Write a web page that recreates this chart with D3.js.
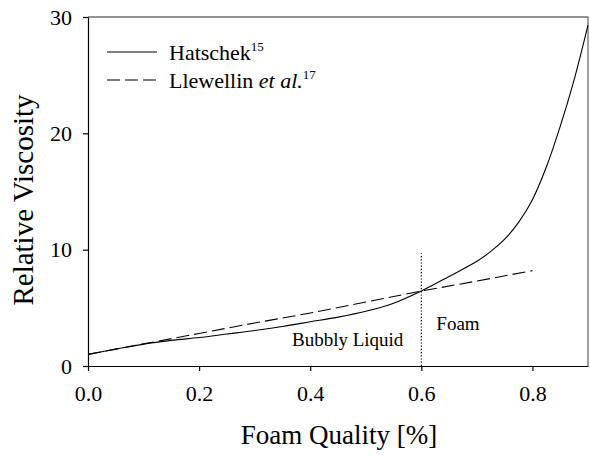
<!DOCTYPE html>
<html>
<head>
<meta charset="utf-8">
<style>
  body { margin: 0; background: #fff; }
  svg text { font-family: "Liberation Serif", "Tinos", "Times New Roman", Times, "DejaVu Serif", serif; }
</style>
</head>
<body>
<script src="https://cdn.jsdelivr.net/npm/d3@7"></script>

<div id="container1"></div>

<script>

// foam quality (x) and relative viscosity
const hatschekX = [0.0, 0.05, 0.1, 0.15, 0.2, 0.25, 0.3, 0.35, 0.4, 0.45, 0.5, 0.55, 0.6, 0.65, 0.7, 0.725, 0.75, 0.775, 0.8, 0.825, 0.85, 0.875, 0.9];
const hatschekY = [1.0, 1.45, 1.88, 2.2, 2.45, 2.75, 3.05, 3.4, 3.8, 4.2, 4.7, 5.4, 6.45, 7.7, 9.0, 9.85, 10.9, 12.35, 14.3, 17.1, 20.6, 24.6, 29.3];

const llewellinX = [0.0, 0.1, 0.2, 0.3, 0.4, 0.5, 0.6, 0.7, 0.8];
const llewellinY = [1.0, 1.9, 2.8, 3.7, 4.55, 5.5, 6.45, 7.3, 8.2];

const xTicks = [0.0, 0.2, 0.4, 0.6, 0.8];
const yTicks = [0, 10, 20, 30];

const transitionX = 0.6;     // bubbly liquid / foam boundary
const transitionTop = 9.7;

const margin = {top: 17, right: 2, bottom: 90, left: 88},
    width = 590 - margin.left - margin.right,
    height = 456 - margin.top - margin.bottom;

const svg = d3.select("#container1")
  .append("svg")
    .attr("width", width + margin.left + margin.right)
    .attr("height", height + margin.top + margin.bottom)
  .append("g")
    .attr("transform", `translate(${margin.left},${margin.top})`);

const x = d3.scaleLinear().domain([0, 0.9]).range([0, width]);
const y = d3.scaleLinear().domain([0, 30]).range([height, 0]);

// frame top / right
svg.append("path")
    .attr("d", `M0,0H${width}V${height}`)
    .attr("fill", "none")
    .attr("stroke", "#707070")
    .attr("stroke-width", 1.3);

const xAxis = svg.append("g")
    .attr("transform", `translate(0, ${height})`)
    .call(d3.axisBottom(x).tickValues(xTicks).tickFormat(d3.format(".1f")).tickSize(5).tickSizeOuter(0).tickPadding(14));

const yAxis = svg.append("g")
    .call(d3.axisLeft(y).tickValues(yTicks).tickSize(5).tickSizeOuter(0).tickPadding(11));

[xAxis, yAxis].forEach(function(a) {
  a.attr("font-family", null);
  a.selectAll("path, line").attr("stroke", "#000").attr("stroke-width", 1.2);
  a.selectAll("text").attr("font-size", "22px").attr("fill", "#000");
});

const line = d3.line()
    .x(function(d) { return x(d[0]); })
    .y(function(d) { return y(d[1]); });

svg.append("path")
    .datum(d3.zip(hatschekX, hatschekY))
    .attr("fill", "none")
    .attr("stroke", "#000")
    .attr("stroke-width", 1.1)
    .attr("d", line.curve(d3.curveCatmullRom.alpha(0.5)));

svg.append("path")
    .datum(d3.zip(llewellinX, llewellinY))
    .attr("fill", "none")
    .attr("stroke", "#000")
    .attr("stroke-width", 1.1)
    .attr("stroke-dasharray", "13,5")
    .attr("d", line.curve(d3.curveLinear));

// boundary marker
svg.append("line")
    .attr("x1", x(transitionX)).attr("x2", x(transitionX))
    .attr("y1", y(0)).attr("y2", y(transitionTop))
    .attr("stroke", "#000")
    .attr("stroke-width", 1.2)
    .attr("stroke-dasharray", "1.2,2");

svg.append("text")
    .attr("x", x(transitionX) - 18).attr("y", y(1.7))
    .attr("text-anchor", "end")
    .style("font-size", "19px")
    .text("Bubbly Liquid");

svg.append("text")
    .attr("x", x(transitionX) + 15).attr("y", y(3.1))
    .style("font-size", "19px")
    .text("Foam");

// axis titles
svg.append("text")
    .attr("x", width / 2 + 1).attr("y", height + 78)
    .attr("text-anchor", "middle")
    .style("font-size", "27px")
    .text("Foam Quality [%]");

svg.append("text")
    .attr("transform", `translate(${33 - margin.left}, ${200 - margin.top}) rotate(-90)`)
    .attr("text-anchor", "middle")
    .style("font-size", "29px")
    .text("Relative Viscosity");

// legend
const legend = svg.append("g").attr("transform", "translate(19, 35)");
legend.append("line").attr("x1", 0).attr("x2", 50).attr("y1", 0).attr("y2", 0)
    .attr("stroke", "#000").attr("stroke-width", 1.1);
legend.append("line").attr("x1", 0).attr("x2", 50).attr("y1", 28).attr("y2", 28)
    .attr("stroke", "#000").attr("stroke-width", 1.1).attr("stroke-dasharray", "13,5");

const t1 = legend.append("text").attr("x", 62).attr("y", 8).style("font-size", "22px");
t1.append("tspan").text("Hatschek");
t1.append("tspan").attr("dy", -9).style("font-size", "13px").text("15");

const t2 = legend.append("text").attr("x", 62).attr("y", 36).style("font-size", "22px");
t2.append("tspan").text("Llewellin ");
t2.append("tspan").style("font-style", "italic").text("et al.");
t2.append("tspan").attr("dy", -9).style("font-size", "13px").text("17");

</script>
</body>
</html>
